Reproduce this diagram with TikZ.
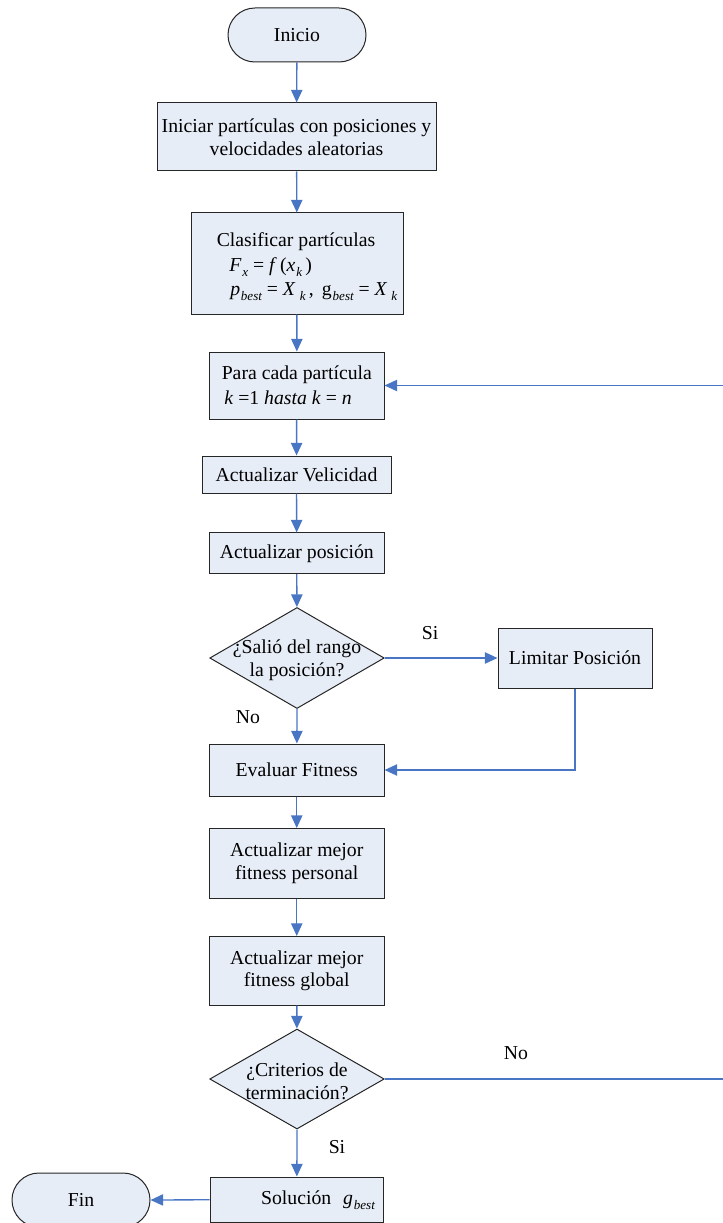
\documentclass[tikz,border=0pt]{standalone}
\usepackage{fontspec}
\setmainfont{Liberation Serif}
\usetikzlibrary{arrows.meta,shapes.geometric}
\definecolor{flowfill}{RGB}{231,237,247}
\definecolor{flowline}{RGB}{72,118,196}
% small italic subscript used in the formulas
\newcommand{\sbs}[1]{\kern0.6pt\raisebox{-0.6ex}{\fontsize{9.8}{9.8}\selectfont\itshape #1}}
\begin{document}
\begin{tikzpicture}[x=0.75pt,y=-0.75pt,
  every node/.style={font=\fontsize{14.8}{17}\selectfont, inner sep=0pt},
  box/.style={draw=black!85, fill=flowfill, line width=0.75pt, rectangle, align=center},
  term/.style={box, minimum width=103.5pt, minimum height=40.5pt, rounded corners=20.2pt},
  decision/.style={draw=black!85, fill=flowfill, line width=0.75pt, diamond, inner sep=0pt},
  flow/.style={draw=flowline, line width=1pt, -{Triangle[length=9.5pt,width=8.5pt]}},
  plain/.style={draw=flowline, line width=1pt}
]
\useasboundingbox (0,0) rectangle (723,1223);

% ---- nodes
\node[term] (ini) at (297,35) {Inicio};
\node[box, minimum width=209.25pt, minimum height=51pt] (init) at (296.5,137)
  {Iniciar partículas con posiciones y\\velocidades aleatorias};

\node[box, minimum width=159pt, minimum height=75.75pt] (clas) at (297,263.5) {};
\node[anchor=base] (clast) at (296,246.5) {Clasificar partículas};
\node[anchor=base west] (clasf) at (229,271.5)
  {\textit{F}\sbs{x} = \textit{f}\,(\textit{x}\sbs{k}\,)};
\node[anchor=base west] (clasp) at (230,295)
  {\textit{p}\sbs{best} = \textit{X}\,\sbs{k}\,,\, g\sbs{best} = \textit{X}\,\sbs{k}};

\node[box, minimum width=130.9pt, minimum height=50.25pt] (para) at (296.75,385.5) {};
\node[anchor=base west] (parat) at (221.5,379) {Para cada partícula};
\node[anchor=base west] (parak) at (224,404.3)
  {\textit{k} =1 \textit{hasta k} = \textit{n}};

\node[box, minimum width=141.75pt, minimum height=27.75pt] (vel) at (296.5,474.5) {Actualizar Velicidad};
\node[box, minimum width=130.9pt, minimum height=30.4pt] (pos) at (296.75,553.25) {Actualizar posición};

\node[decision, minimum width=130.9pt, minimum height=75.75pt] (d1) at (297,658) {};
\node[align=center] (d1t) at (297,660) {¿Salió del rango\\la posición?};

\node[box, minimum width=115.5pt, minimum height=45pt] (lim) at (575,658) {Limitar Posición};
\node[box, minimum width=130.9pt, minimum height=39pt] (eval) at (296.75,770) {Evaluar Fitness};
\node[box, minimum width=130.9pt, minimum height=52.5pt] (pers) at (296.75,863.5)
  {Actualizar mejor\\fitness personal};
\node[box, minimum width=130.9pt, minimum height=51.4pt] (glob) at (296.75,970.75)
  {Actualizar mejor\\fitness global};

\node[decision, minimum width=130.9pt, minimum height=75pt] (d2) at (297,1079) {};
\node[align=center] (d2t) at (297,1081) {¿Criterios de\\terminación?};

\node[box, minimum width=130.2pt, minimum height=34.1pt] (sol) at (296.8,1199.75) {};
\node (solt) at (318,1200) {Solución\hspace{9pt}\textit{g}\sbs{best}};
\node[term] (fin) at (81,1200) {Fin};

% ---- branch labels
\node (si1) at (430,633) {Si};
\node (no1) at (248,717) {No};
\node (no2) at (516,1053) {No};
\node (si2) at (337,1147) {Si};

% loop-back corners, just past the right edge
\coordinate (loopA) at (727,1079);
\coordinate (loopB) at (727,385.5);

% ---- connectors
\draw[flow] (ini) -- (init);
\draw[flow] (init) -- (clas);
\draw[flow] (clas) -- (para);
\draw[flow] (para) -- (vel);
\draw[flow] (vel) -- (pos);
\draw[flow] (pos) -- (d1);
\draw[flow] (d1.south) -- (eval);
\draw[flow] (d1.east) -- (lim.west);
\draw[flow] (lim.south) |- (eval.east);
\draw[flow] (eval) -- (pers);
\draw[flow] (pers) -- (glob);
\draw[flow] (glob) -- (d2);
\draw[flow] (d2.south) -- (sol);
\draw[flow] (sol.west) -- (fin.east);
\draw[flow] (d2.east) -- (loopA) -- (loopB) -- (para.east);
\end{tikzpicture}
\end{document}
